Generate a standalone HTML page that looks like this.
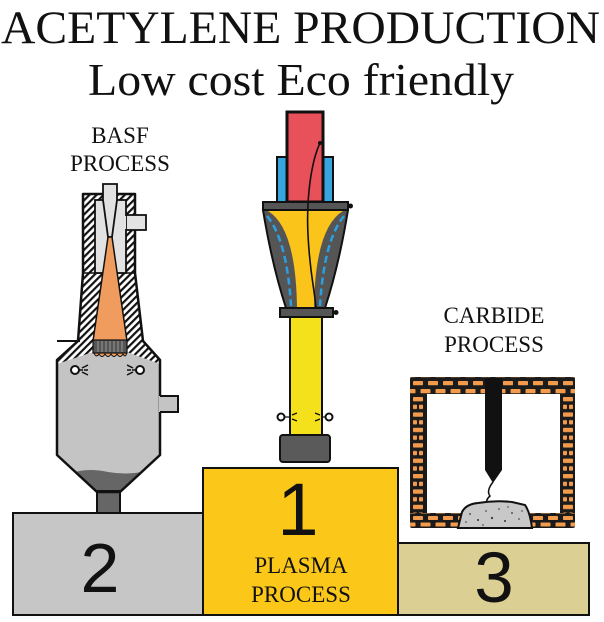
<!DOCTYPE html>
<html>
<head>
<meta charset="utf-8">
<style>
  html,body{margin:0;padding:0;background:#fff;}
  svg{display:block;}
  text{font-family:"Liberation Serif","Times New Roman",serif;fill:#111;}
  .num{font-family:"Liberation Sans",Arial,sans-serif;}
</style>
</head>
<body>
<svg width="604" height="622" viewBox="0 0 604 622" xmlns="http://www.w3.org/2000/svg">
  <defs>
    <pattern id="hatch" width="5" height="5" patternUnits="userSpaceOnUse" patternTransform="rotate(45)">
      <rect width="5" height="5" fill="#fff"/>
      <rect width="2.2" height="5" fill="#111"/>
    </pattern>
    <pattern id="bt" x="413" y="381" width="15" height="16" patternUnits="userSpaceOnUse">
      <rect x="0" y="0" width="10" height="4.3" rx="0.8" fill="#f29b4c"/>
      <rect x="7.5" y="8" width="10" height="4.3" rx="0.8" fill="#f29b4c"/>
      <rect x="-7.5" y="8" width="10" height="4.3" rx="0.8" fill="#f29b4c"/>
    </pattern>
    <pattern id="bb" x="413" y="516" width="15" height="13" patternUnits="userSpaceOnUse">
      <rect x="0" y="0" width="10" height="4" rx="0.8" fill="#f29b4c"/>
      <rect x="7.5" y="6.5" width="10" height="4" rx="0.8" fill="#f29b4c"/>
      <rect x="-7.5" y="6.5" width="10" height="4" rx="0.8" fill="#f29b4c"/>
    </pattern>
    <pattern id="bsl" x="413" y="397" width="20" height="15.4" patternUnits="userSpaceOnUse">
      <rect x="0" y="0" width="10" height="4.3" rx="0.8" fill="#f29b4c"/>
      <rect x="0" y="7.7" width="4" height="4.3" rx="0.8" fill="#f29b4c"/>
      <rect x="6" y="7.7" width="4" height="4.3" rx="0.8" fill="#f29b4c"/>
    </pattern>
    <pattern id="bsr" x="563" y="397" width="20" height="15.4" patternUnits="userSpaceOnUse">
      <rect x="0" y="0" width="10" height="4.3" rx="0.8" fill="#f29b4c"/>
      <rect x="0" y="7.7" width="4" height="4.3" rx="0.8" fill="#f29b4c"/>
      <rect x="6" y="7.7" width="4" height="4.3" rx="0.8" fill="#f29b4c"/>
    </pattern>
  </defs>

  <rect width="604" height="622" fill="#fff"/>

  <!-- Titles -->
  <text x="1" y="43" font-size="47" textLength="599" lengthAdjust="spacingAndGlyphs">ACETYLENE PRODUCTION</text>
  <text x="88" y="95" font-size="46" textLength="426" lengthAdjust="spacingAndGlyphs">Low cost Eco friendly</text>

  <!-- Labels -->
  <text x="120" y="143" font-size="23" text-anchor="middle">BASF</text>
  <text x="120" y="171" font-size="23" text-anchor="middle">PROCESS</text>
  <text x="494" y="323" font-size="23" text-anchor="middle">CARBIDE</text>
  <text x="494" y="352" font-size="23" text-anchor="middle">PROCESS</text>

  <!-- Podiums -->
  <rect x="13" y="513" width="191" height="102" fill="#c6c6c6" stroke="#111" stroke-width="2"/>
  <rect x="397" y="543" width="192" height="72" fill="#dccf93" stroke="#111" stroke-width="2"/>
  <rect x="203" y="468" width="195" height="147" fill="#fbc81a" stroke="#111" stroke-width="2"/>

  <text class="num" x="100" y="592" font-size="70" text-anchor="middle">2</text>
  <text class="num" x="298" y="535" font-size="74" text-anchor="middle">1</text>
  <text class="num" x="494" y="602" font-size="71" text-anchor="middle">3</text>
  <text x="301" y="573" font-size="23" text-anchor="middle">PLASMA</text>
  <text x="301" y="602" font-size="23" text-anchor="middle">PROCESS</text>

  <!-- ===== BASF reactor ===== -->
  <path d="M83,194 L135,194 L135,273 L143,341 L160,360 L160,455 L120,492 L97,492 L57,455 L57,360 L78,341 L83,273 Z" fill="url(#hatch)"/>
  <path d="M57,364 L93,352 L127,352 L160,364 L160,455 L120,492 L97,492 L57,455 Z" fill="#c4c4c4"/>
  <!-- dark bottom -->
  <path d="M75,472 Q90,468 108,472 Q125,475 142,472 L120,492 L97,492 Z" fill="#666"/>
  <rect x="97" y="491" width="23" height="22" fill="#666" stroke="#111" stroke-width="2"/>
  <!-- outline -->
  <path d="M83,194 L135,194 L135,273 L143,341 L160,360 L160,455 L120,492 L97,492 L57,455 L57,360 L78,341 L83,273 Z" fill="none" stroke="#111" stroke-width="2.5" stroke-linejoin="round"/>
  <line x1="83" y1="273" x2="135" y2="273" stroke="#111" stroke-width="1.5"/>
  <line x1="57" y1="341" x2="80" y2="341" stroke="#111" stroke-width="2"/>
  <!-- side nozzle -->
  <path d="M159,396 H178 V412 H159 Z" fill="#c4c4c4"/>
  <path d="M160,396 H178 V412 H160" fill="none" stroke="#111" stroke-width="2"/>
  <!-- top chambers -->
  <rect x="117" y="215" width="29" height="15" fill="#e2e2e2" stroke="#111" stroke-width="1.8"/>
  <rect x="95" y="200" width="31" height="73" fill="#e2e2e2" stroke="#111" stroke-width="1.8"/>
  <rect x="118" y="216" width="8" height="13" fill="#e2e2e2"/>
  <path d="M103,184 H117 V200 L112,237 L108,237 L103,200 Z" fill="#e2e2e2" stroke="#111" stroke-width="1.8"/>
  <!-- orange flame cone -->
  <path d="M108,237 L112,237 L127,341 L93,341 Z" fill="#ef9c5e" stroke="#111" stroke-width="1.5"/>
  <path d="M93,351 Q96,359 99,354 Q102,359 105,354 Q108,359 111,354 Q114,359 117,354 Q120,359 123,354 Q126,359 127,351 Z" fill="#ef9c5e" stroke="#111" stroke-width="1"/>
  <rect x="93" y="340" width="34" height="13" fill="#555" stroke="#111" stroke-width="1.2"/>
  <g stroke="#999" stroke-width="1">
    <line x1="98" y1="341" x2="98" y2="352"/><line x1="102" y1="341" x2="102" y2="352"/>
    <line x1="106" y1="341" x2="106" y2="352"/><line x1="110" y1="341" x2="110" y2="352"/>
    <line x1="114" y1="341" x2="114" y2="352"/><line x1="118" y1="341" x2="118" y2="352"/>
    <line x1="122" y1="341" x2="122" y2="352"/>
  </g>
  <!-- injectors -->
  <circle cx="75" cy="370" r="4" fill="#fff" stroke="#111" stroke-width="2"/>
  <path d="M79,370 H83 M82,368 L88,365 M82,372 L88,375 M84,370 H88" stroke="#111" stroke-width="1.5" fill="none"/>
  <circle cx="140" cy="370" r="4" fill="#fff" stroke="#111" stroke-width="2"/>
  <path d="M136,370 H132 M133,368 L127,365 M133,372 L127,375 M131,370 H127" stroke="#111" stroke-width="1.5" fill="none"/>

  <!-- ===== Plasma torch ===== -->
  <rect x="277" y="157" width="10" height="45" fill="#37a6df" stroke="#111" stroke-width="2"/>
  <rect x="323" y="157" width="10" height="45" fill="#37a6df" stroke="#111" stroke-width="2"/>
  <rect x="287" y="112" width="36" height="90" fill="#e8505a" stroke="#111" stroke-width="3"/>
  <!-- cone -->
  <path d="M263,210 L348,210 Q339,265 325,308 L286,308 Q272,265 263,210 Z" fill="#555" stroke="#111" stroke-width="2"/>
  <path d="M268,211 Q296,228 297,308 L314,308 Q315,228 343,211 Z" fill="#fbc41a"/>
  <path d="M267,216 Q287,240 291,306" fill="none" stroke="#2aa0e0" stroke-width="2.5" stroke-dasharray="7 4"/>
  <path d="M344,216 Q324,240 320,306" fill="none" stroke="#2aa0e0" stroke-width="2.5" stroke-dasharray="7 4"/>
  <rect x="263" y="202" width="85" height="8" fill="#555" stroke="#111" stroke-width="2"/>
  <circle cx="350.5" cy="206" r="2.5" fill="#111"/>
  <!-- column -->
  <rect x="290" y="317" width="32" height="118" fill="#f5e11b" stroke="#111" stroke-width="2"/>
  <rect x="280" y="308" width="53" height="9" fill="#555" stroke="#111" stroke-width="2"/>
  <circle cx="336" cy="312.5" r="2.5" fill="#111"/>
  <rect x="280" y="435" width="50" height="27" rx="3" fill="#5a5a5a" stroke="#111" stroke-width="2"/>
  <circle cx="281" cy="417" r="3.5" fill="#fff" stroke="#111" stroke-width="2"/>
  <path d="M284.5,417 H290 M292,415 L297,413 M292,419 L297,421" stroke="#111" stroke-width="1.3" fill="none"/>
  <circle cx="329" cy="417" r="3.5" fill="#fff" stroke="#111" stroke-width="2"/>
  <path d="M325.5,417 H322 M320,415 L315,413 M320,419 L315,421" stroke="#111" stroke-width="1.3" fill="none"/>
  <!-- wire -->
  <path d="M320,143 C312,160 306,195 308,235 S314,285 316,308" fill="none" stroke="#111" stroke-width="1.6"/>
  <circle cx="320" cy="143" r="2" fill="#111"/>

  <!-- ===== Carbide furnace ===== -->
  <rect x="410" y="377" width="165" height="151" rx="2" fill="#1b1b1b"/>
  <rect x="410" y="377" width="165" height="17" fill="url(#bt)"/>
  <rect x="410" y="513" width="165" height="15" fill="url(#bb)"/>
  <rect x="410" y="394" width="17" height="119" fill="url(#bsl)"/>
  <rect x="560" y="394" width="15" height="119" fill="url(#bsr)"/>
  <rect x="427" y="394" width="133" height="119" fill="#fff"/>
  <!-- electrode -->
  <path d="M485,378 V470 L493,483 L502,470 V378 Z" fill="#111"/>
  <path d="M493,482 Q486,491 490,496 Q485,500 487,506" fill="none" stroke="#111" stroke-width="1.5"/>
  <!-- rock -->
  <path d="M458,528 L462,512 Q466,504 478,503 Q495,500 512,502 L525,505 Q530,512 532,528 Z" fill="#c8c8c8" stroke="#111" stroke-width="2"/>
  <g fill="#333">
    <circle cx="470" cy="514" r="0.9"/><circle cx="478" cy="520" r="1"/><circle cx="486" cy="511" r="0.8"/>
    <circle cx="492" cy="518" r="1.1"/><circle cx="499" cy="509" r="0.8"/><circle cx="505" cy="521" r="1"/>
    <circle cx="512" cy="513" r="0.9"/><circle cx="519" cy="519" r="0.8"/><circle cx="466" cy="522" r="0.8"/>
    <circle cx="483" cy="525" r="0.8"/><circle cx="508" cy="507" r="0.7"/><circle cx="522" cy="511" r="0.7"/>
  </g>
</svg>
</body>
</html>
